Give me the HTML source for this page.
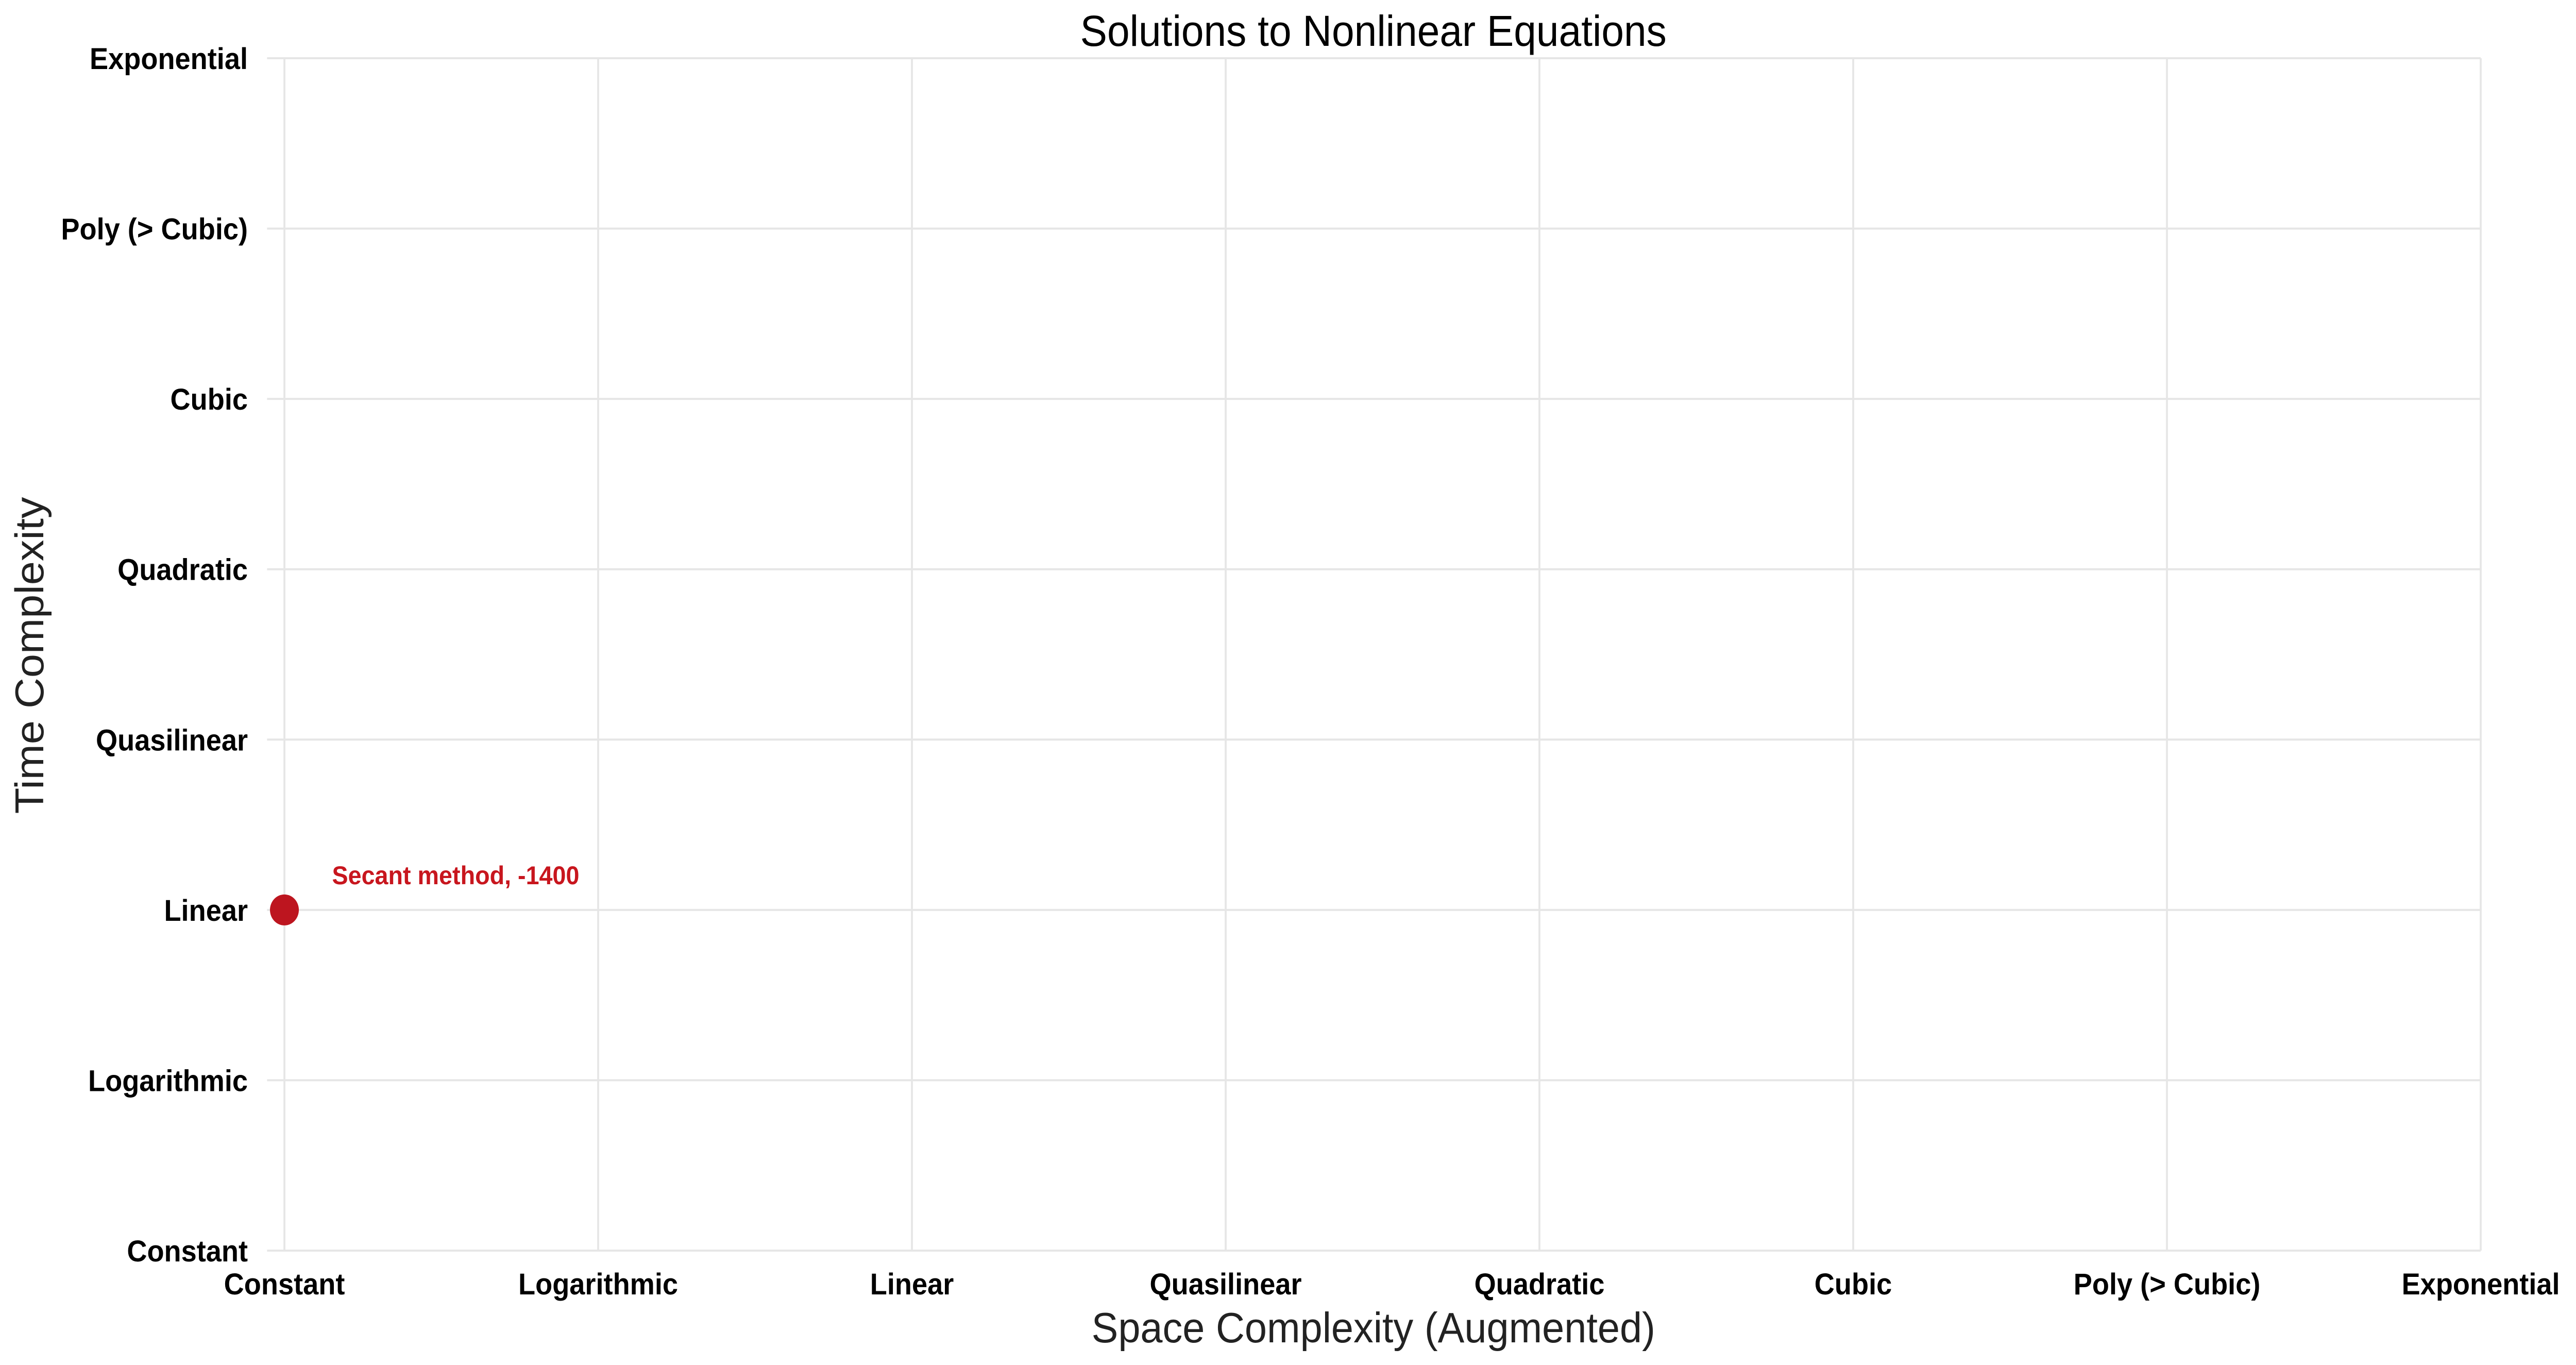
<!DOCTYPE html>
<html><head><meta charset="utf-8"><style>html,body{margin:0;padding:0;background:#fff;overflow:hidden;width:100%;height:100%}svg{display:block;width:100vw;height:100vh}</style></head>
<body>
<svg id="chart" viewBox="0 0 5353 2649" preserveAspectRatio="none" xmlns="http://www.w3.org/2000/svg" font-family="Liberation Sans, Arial, sans-serif">
<rect width="5353" height="2649" fill="#fff"/>
<g id="grid"></g><g id="xt"></g><g id="yt"></g><g id="pts"></g>
<text x="2854" y="89" font-size="84" text-anchor="middle" fill="#000">Solutions to Nonlinear Equations</text>
<text x="2854" y="2605" font-size="83" text-anchor="middle" fill="#222">Space Complexity (Augmented)</text>
<text transform="translate(90,1272) rotate(-90)" font-size="83" text-anchor="middle" fill="#222">Time Complexity</text>
</svg>
<script>
const xCategories=["Constant","Logarithmic","Linear","Quasilinear","Quadratic","Cubic","Poly (> Cubic)","Exponential"];
const yCategories=["Constant","Logarithmic","Linear","Quasilinear","Quadratic","Cubic","Poly (> Cubic)","Exponential"];
const pointLabels=["Secant method"];
const pointScores=[-1400];
const pointX=[0];
const pointY=[2];
const NS="http://www.w3.org/2000/svg";
const L=591,R=5155,T=113,B=2427;
const xs=i=>L+(R-L)*i/(xCategories.length-1);
const ys=i=>B-(B-T)*i/(yCategories.length-1);
function mk(tag,attrs,parent,text){const e=document.createElementNS(NS,tag);for(const k in attrs)e.setAttribute(k,attrs[k]);if(text!==undefined)e.textContent=text;parent.appendChild(e);return e;}
const grid=document.getElementById('grid'),xt=document.getElementById('xt'),yt=document.getElementById('yt'),pts=document.getElementById('pts');
xCategories.forEach((c,i)=>{
  const g=mk('line',{x1:xs(i),x2:xs(i),y1:T,y2:B,stroke:'#e6e6e6','stroke-width':4},grid);
  
  
  const t=mk('text',{x:xs(i),y:2512,'font-size':58,'font-weight':'bold','text-anchor':'middle',fill:'#000'},xt,c);
  
  
});
yCategories.forEach((c,i)=>{
  const g=mk('line',{x1:555,x2:R,y1:ys(i),y2:ys(i),stroke:'#e6e6e6','stroke-width':4},grid);
  
  
  const t=mk('text',{x:515,y:ys(i)+21,'font-size':58,'font-weight':'bold','text-anchor':'end',fill:'#000'},yt,c);
  
  
});
pointLabels.forEach((lab,i)=>{
  const c=mk('circle',{cx:xs(pointX[i]),cy:ys(pointY[i]),r:30,fill:'#bd151f'},pts);
  
  
  const t=mk('text',{x:xs(pointX[i])+99,y:ys(pointY[i])-50,'font-size':50,'font-weight':'bold',fill:'#c8161e'},pts,lab+', '+pointScores[i]);
  
  
});
</script>
</body></html>
